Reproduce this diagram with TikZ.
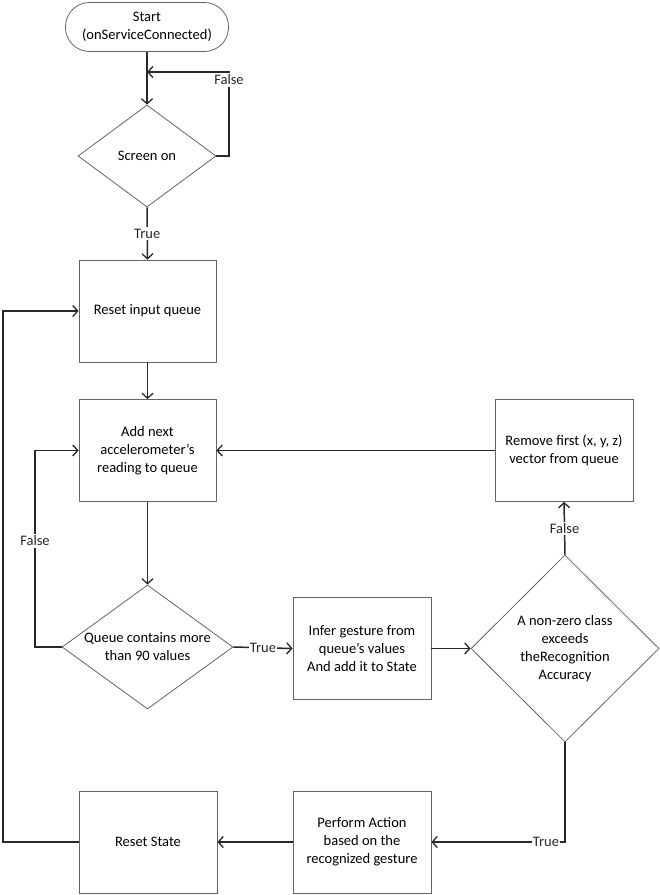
\documentclass[tikz,border=0pt]{standalone}
\usepackage{fontspec}
\setmainfont{Carlito}
\usetikzlibrary{arrows.meta,shapes.geometric}
\definecolor{linegray}{RGB}{40,40,40}
\definecolor{boxgray}{RGB}{100,100,100}
\begin{document}
\begin{tikzpicture}[x=1pt,y=-1pt,
  font=\fontsize{14.5}{18}\selectfont,
  box/.style={draw=boxgray,line width=0.8pt,minimum width=137pt,minimum height=102pt,align=center,inner sep=0pt},
  startbox/.style={draw=boxgray,line width=0.8pt,rounded corners=24pt,minimum width=163pt,minimum height=49pt,align=center,inner sep=0pt},
  dec/.style={draw=boxgray,line width=0.8pt,shape=diamond,inner sep=0pt},
  dtext/.style={align=center,inner sep=0pt},
  conn/.style={line width=1.5pt,draw=linegray,-{Straight Barb[length=5pt,width=11pt,line width=1.3pt]}},
  lbl/.style={fill=white,inner sep=1.5pt,text=linegray}]
\useasboundingbox (0,0) rectangle (660,895);

\node[startbox] (start) at (147,27) {Start\\(onServiceConnected)};
\node[dec,minimum width=138pt,minimum height=102pt] (d1) at (147,156) {};
\node[dtext] (t1) at (d1) {Screen on};
\node[box] (b1) at (147.5,311) {Reset input queue};
\node[box] (b2) at (147.5,450.5) {Add next\\accelerometer’s\\reading to queue};
\node[dec,minimum width=171pt,minimum height=124pt] (d2) at (147.5,647) {};
\node[dtext] (t2) at (d2) {Queue contains more\\than 90 values};
\node[box,minimum width=138pt] (b3) at (362,648.5) {Infer gesture from\\queue’s values\\And add it to State};
\node[dec,minimum width=188pt,minimum height=187pt] (d3) at (565,648.5) {};
\node[dtext] (t3) at (d3) {A non-zero class\\exceeds\\theRecognition\\Accuracy};
\node[box,minimum width=138pt] (b4) at (564,450.5) {Remove first (x, y, z)\\vector from queue};
\node[box,minimum width=138pt] (b5) at (362,842) {Perform Action\\based on the\\recognized gesture};
\node[box,minimum width=138pt] (b6) at (148,842) {Reset State};

\coordinate (f1) at (229,72);
\coordinate (j1) at (147,72);
\coordinate (f2) at (35,647);
\coordinate (f3) at (3,842);

\draw[conn] (start) -- (d1);
\draw[conn] (d1.east) -| (f1) -- (j1);
\node[lbl] (lf1) at (229,80) {False};
\draw[conn] (d1.south) -- node[lbl] (lt1) {True} (b1.north);
\draw[conn] (b1) -- (b2);
\draw[conn] (b2) -- (d2);
\draw[conn] (d2.west) -- (f2) |- (b2.west);
\node[lbl] (lf2) at (35,541) {False};
\draw[conn] (d2.east) -- node[lbl,inner sep=0.5pt] (lt2) {True} (b3.west);
\draw[conn] (b3) -- (d3);
\draw[conn] (d3.north) -- node[lbl] (lf3) {False} (b4.south);
\draw[conn] (b4) -- (b2);
\draw[conn] (d3.south) |- (b5.east);
\node[lbl,inner sep=0.5pt] (lt3) at (546,842) {True};
\draw[conn] (b5) -- (b6);
\draw[conn] (b6.west) -- (f3) |- (b1.west);
\end{tikzpicture}
\end{document}
